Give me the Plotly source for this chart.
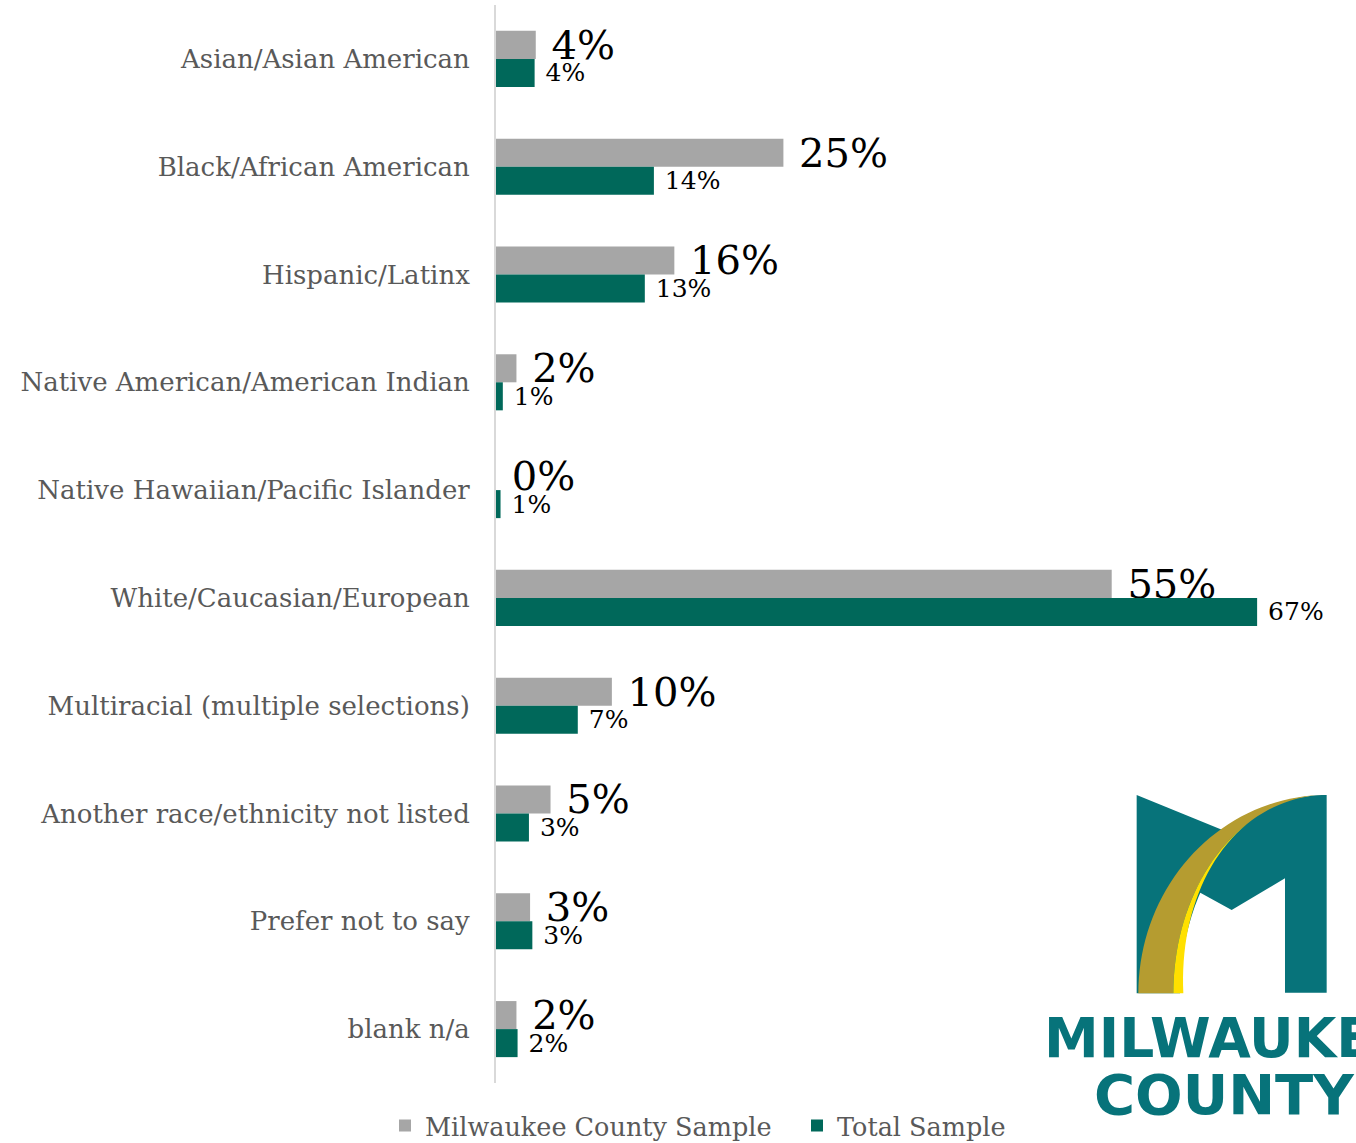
import math
import plotly.graph_objects as go

categories = [
    "Asian/Asian American",
    "Black/African American",
    "Hispanic/Latinx",
    "Native American/American Indian",
    "Native Hawaiian/Pacific Islander",
    "White/Caucasian/European",
    "Multiracial (multiple selections)",
    "Another race/ethnicity not listed",
    "Prefer not to say",
    "blank n/a",
]
milwaukee_values = [3.5, 25.3, 15.7, 1.8, 0.0, 54.2, 10.2, 4.8, 3.0, 1.8]
milwaukee_labels = ["4%", "25%", "16%", "2%", "0%", "55%", "10%", "5%", "3%", "2%"]
total_values = [3.4, 13.9, 13.1, 0.6, 0.4, 67.0, 7.2, 2.9, 3.2, 1.9]
total_labels = ["4%", "14%", "13%", "1%", "1%", "67%", "7%", "3%", "3%", "2%"]
series_names = ["Milwaukee County Sample", "Total Sample"]

GRAY = "#A6A6A6"
TEAL = "#00685A"
FONT = "DejaVu Serif"
NB = "\u00a0"

W, H = 1356, 1143
ML, MR, MT, MB = 496, 0, 5, 60
PW, PH = W - ML - MR, H - MT - MB


def px(x):
    return (x - ML) / PW


def py(y):
    return 1 - (y - MT) / PH


fig = go.Figure()
fig.add_trace(go.Bar(
    y=categories, x=milwaukee_values, orientation="h", name=series_names[0],
    marker=dict(color=GRAY, line=dict(width=0)),
    text=[NB + t for t in milwaukee_labels], textposition="outside",
    textfont=dict(family=FONT, size=40, color="#000000"),
    cliponaxis=False, constraintext="none", hoverinfo="skip",
))
fig.add_trace(go.Bar(
    y=categories, x=total_values, orientation="h", name=series_names[1],
    marker=dict(color=TEAL, line=dict(width=0)),
    text=[NB + t for t in total_labels], textposition="outside",
    textfont=dict(family=FONT, size=25, color="#000000"),
    cliponaxis=False, constraintext="none", hoverinfo="skip",
))

# ---- Milwaukee County logo (decoration) ----
LOGO_TEAL = "#07737A"
LOGO_GOLD = "#B59C30"
LOGO_YEL = "#FFE000"


def z2paper(zx, zy):
    return px(1030 + zx / 3.0), py(780 + zy / 3.0)


def ell(a, t_deg, b=595.0, cx=890.0, cy=640.0):
    t = math.radians(t_deg)
    return cx - a * math.cos(t), cy - b * math.sin(t)


def path_from(points):
    pts = [z2paper(*p) for p in points]
    return "M " + " L ".join(f"{x:.5f},{y:.5f}" for x, y in pts) + " Z"


# teal M
t0 = math.degrees(math.asin((640 - 148) / 595.0))
t1 = math.degrees(math.asin((640 - 338) / 595.0))
teal_pts = [(320, 45), (572, 148)]
teal_pts += [ell(510, t0 + (90 - t0) * i / 20) for i in range(21)]
teal_pts += [(890, 638), (765, 638), (765, 295), (605, 390)]
teal_pts += [ell(440, t1 - t1 * i / 20) for i in range(21)]
teal_pts += [(320, 640)]

gold_pts = [ell(565, 90 * i / 40) for i in range(41)]
gold_pts += [ell(460, 90 - 90 * i / 40) for i in range(41)]

yel_pts = [ell(460, 70 * i / 30) for i in range(31)]
yel_pts += [ell(430 + 30 * min(1.0, (70 - 70 * i / 30) / 60.0), 70 - 70 * i / 30) for i in range(31)]

shapes = []
for pts, col in [(teal_pts, LOGO_TEAL), (gold_pts, LOGO_GOLD), (yel_pts, LOGO_YEL)]:
    shapes.append(dict(type="path", xref="paper", yref="paper", path=path_from(pts),
                       fillcolor=col, line=dict(width=0), layer="above"))

annotations = [
    dict(text="<b>MILWAUKEE</b>", x=px(1042), y=py(1038), xref="paper", yref="paper",
         xanchor="left", yanchor="middle", showarrow=False,
         font=dict(family="DejaVu Sans", size=55, color=LOGO_TEAL)),
    dict(text="<b>COUNTY</b>", x=px(1092), y=py(1094), xref="paper", yref="paper",
         xanchor="left", yanchor="middle", showarrow=False,
         font=dict(family="DejaVu Sans", size=56, color=LOGO_TEAL)),
]

fig.update_layout(
    width=W, height=H,
    margin=dict(l=ML, r=MR, t=MT, b=MB, pad=0),
    paper_bgcolor="white", plot_bgcolor="white",
    barmode="group", bargap=0.48, bargroupgap=0,
    font=dict(family=FONT, color="#595959"),
    showlegend=True,
    legend=dict(orientation="h", x=385 / W, xanchor="left", xref="container",
                y=1 - 1126 / H, yanchor="middle", yref="container",
                font=dict(family=FONT, size=25.5, color="#595959"),
                traceorder="normal", itemclick=False,
                entrywidth=367, entrywidthmode="pixels"),
    xaxis=dict(range=[0, PW / 11.36], visible=False, fixedrange=True),
    yaxis=dict(autorange="reversed", showline=True, linecolor="#D9D9D9", linewidth=2,
               ticks="", showgrid=False, zeroline=False, ticklabelstandoff=19,
               tickfont=dict(family=FONT, size=26, color="#595959"), fixedrange=True),
    shapes=shapes,
    annotations=annotations,
)

fig.write_html("out.html", config={"displayModeBar": False},
               post_script="document.body.style.margin='0';document.body.style.overflow='hidden';")
